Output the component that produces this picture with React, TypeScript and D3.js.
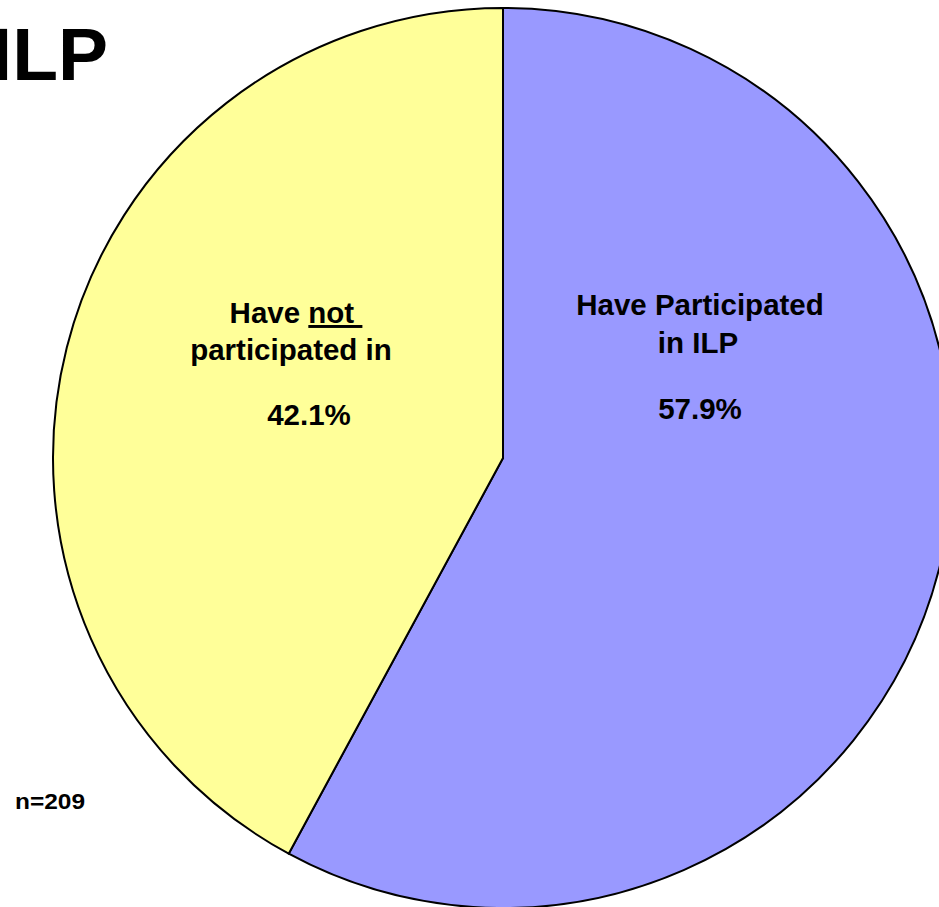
import React from 'react';
import { pie, arc } from 'd3';

const width = 939;
const height = 907;
const centerX = 503;
const centerY = 458;
const radius = 450;

// slices, clockwise from 12 o'clock
const categories = ['Have Participated in ILP', 'Have not participated in'];
const values = [57.9, 42.1];
const colors = ['#9999FF', '#FFFF99'];
const pctLabels = ['57.9%', '42.1%'];

const font = '"Liberation Sans", Arial, Helvetica, sans-serif';

const pieArc = arc<any>().innerRadius(0).outerRadius(radius);
const slices = pie<number>().sort(null).value((d) => d)(values);

const App = () => {
  return (
    <svg
      width={width}
      height={height}
      style={{ position: 'absolute', left: 0, top: 0, background: '#fff' }}
      fontFamily={font}
    >
      <g transform={`translate(${centerX}, ${centerY})`}>
        {slices.map((d, i) => (
          <path
            key={categories[i]}
            d={pieArc(d) as string}
            fill={colors[i]}
            stroke="#000"
            strokeWidth={2}
            strokeLinejoin="round"
          />
        ))}
      </g>

      {/* right slice label */}
      <g fontWeight="bold" fontSize={29.5} textAnchor="middle" fill="#000">
        <text x={700} y={315}>Have Participated</text>
        <text x={698} y={353}>in ILP</text>
        <text x={700} y={419}>{pctLabels[0]}</text>
      </g>

      {/* left slice label */}
      <g fontWeight="bold" fontSize={29.5} textAnchor="middle" fill="#000">
        <text x={296} y={323} style={{ whiteSpace: 'pre' }}>
          Have <tspan textDecoration="underline">{'not\u00A0'}</tspan>
        </text>
        <text x={291} y={360}>participated in</text>
        <text x={309} y={425}>{pctLabels[1]}</text>
      </g>

      {/* title runs off the left edge, as in the original */}
      <text x={108} y={80} textAnchor="end" fontSize={75} fontWeight="bold" fill="#000">
        ILP
      </text>

      <text x={15} y={809} fontSize={22} fontWeight="bold" fill="#000" textLength={70} lengthAdjust="spacingAndGlyphs">
        n=209
      </text>
    </svg>
  );
};

export default App;
